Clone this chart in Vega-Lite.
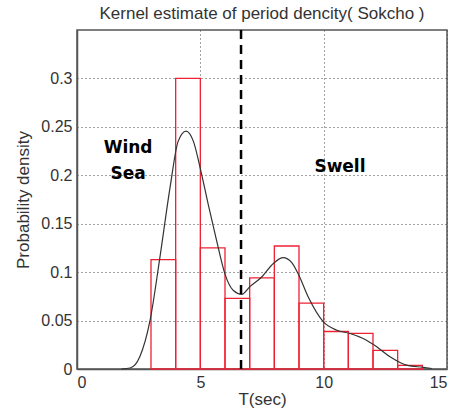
{
  "$schema": "https://vega.github.io/schema/vega-lite/v6.json",
  "autosize": {"type": "none"},
  "padding": {"left": 77, "top": 30, "right": 9, "bottom": 47},
  "width": 370,
  "height": 339,
  "background": "white",
  "title": {"text": "Kernel estimate of period dencity( Sokcho )", "font": "Liberation Sans", "fontSize": 17, "fontWeight": "normal", "color": "#333", "offset": 6},
  "config": {
    "view": {"stroke": "#555", "strokeWidth": 1.5},
    "axis": {"labelFont": "Liberation Sans", "labelFontSize": 16, "labelColor": "#333", "titleFont": "Liberation Sans", "titleFontSize": 17, "titleFontWeight": "normal", "titleColor": "#333", "domainColor": "#555", "domainWidth": 1.5, "tickColor": "#555", "gridColor": "#444", "gridDash": [1, 3], "gridWidth": 1, "gridOpacity": 1}
  },
  "datasets": {
    "bars": [
      {"x0": 3, "x1": 4, "density": 0.113},
      {"x0": 4, "x1": 5, "density": 0.3},
      {"x0": 5, "x1": 6, "density": 0.125},
      {"x0": 6, "x1": 7, "density": 0.073},
      {"x0": 7, "x1": 8, "density": 0.094},
      {"x0": 8, "x1": 9, "density": 0.127},
      {"x0": 9, "x1": 10, "density": 0.068},
      {"x0": 10, "x1": 11, "density": 0.0387},
      {"x0": 11, "x1": 12, "density": 0.0367},
      {"x0": 12, "x1": 13, "density": 0.0192},
      {"x0": 13, "x1": 14, "density": 0.0038}
    ],
    "kde": [
      {"t": 1.8, "d": 0.0},
      {"t": 2.15, "d": 0.001},
      {"t": 2.55, "d": 0.013},
      {"t": 2.96, "d": 0.05},
      {"t": 3.36, "d": 0.115},
      {"t": 3.77, "d": 0.187},
      {"t": 4.1, "d": 0.235},
      {"t": 4.42, "d": 0.2456},
      {"t": 4.72, "d": 0.235},
      {"t": 4.99, "d": 0.208},
      {"t": 5.32, "d": 0.17},
      {"t": 5.66, "d": 0.1325},
      {"t": 6.0, "d": 0.098},
      {"t": 6.34, "d": 0.081},
      {"t": 6.68, "d": 0.077},
      {"t": 7.01, "d": 0.085},
      {"t": 7.49, "d": 0.095},
      {"t": 7.96, "d": 0.109},
      {"t": 8.36, "d": 0.115},
      {"t": 8.7, "d": 0.11},
      {"t": 8.97, "d": 0.098},
      {"t": 9.38, "d": 0.074},
      {"t": 9.99, "d": 0.0486},
      {"t": 10.53, "d": 0.04},
      {"t": 11.07, "d": 0.0367},
      {"t": 11.6, "d": 0.0315},
      {"t": 12.15, "d": 0.023},
      {"t": 12.69, "d": 0.0126},
      {"t": 13.36, "d": 0.004},
      {"t": 14.04, "d": 0.0017},
      {"t": 14.38, "d": 0.0005}
    ],
    "divider": [{"t": 6.65}],
    "labels": [
      {"t": 2.07, "d": 0.228, "label": "Wind"},
      {"t": 2.07, "d": 0.201, "label": "Sea"},
      {"t": 10.66, "d": 0.209, "label": "Swell"}
    ]
  },
  "layer": [
    {
      "data": {"name": "bars"},
      "mark": {"type": "rect", "fill": "white", "fillOpacity": 0, "stroke": "#ee2233", "strokeWidth": 1.3},
      "encoding": {
        "x": {"field": "x0", "type": "quantitative", "scale": {"domain": [0, 15], "nice": false}, "axis": {"title": "T(sec)", "values": [0, 5, 10, 15], "grid": true, "tickSize": 0, "labelPadding": 5, "titlePadding": 1}},
        "x2": {"field": "x1"},
        "y": {"field": "density", "type": "quantitative", "scale": {"domain": [0, 0.35], "nice": false}, "axis": {"title": "Probability density", "format": "~g", "values": [0, 0.05, 0.1, 0.15, 0.2, 0.25, 0.3], "grid": true, "tickSize": 0, "labelPadding": 5, "titlePadding": 8}},
        "y2": {"datum": 0}
      }
    },
    {
      "data": {"name": "kde"},
      "mark": {"type": "line", "color": "#333", "strokeWidth": 1.2, "interpolate": "monotone"},
      "encoding": {
        "x": {"field": "t", "type": "quantitative"},
        "y": {"field": "d", "type": "quantitative"}
      }
    },
    {
      "data": {"name": "divider"},
      "mark": {"type": "rule", "color": "black", "strokeWidth": 2.5, "strokeDash": [9, 6]},
      "encoding": {
        "x": {"field": "t", "type": "quantitative"}
      }
    },
    {
      "data": {"name": "labels"},
      "mark": {"type": "text", "font": "DejaVu Sans", "fontSize": 17, "fontWeight": "bold", "color": "black", "align": "center", "baseline": "middle"},
      "encoding": {
        "x": {"field": "t", "type": "quantitative"},
        "y": {"field": "d", "type": "quantitative"},
        "text": {"field": "label"}
      }
    }
  ]
}
